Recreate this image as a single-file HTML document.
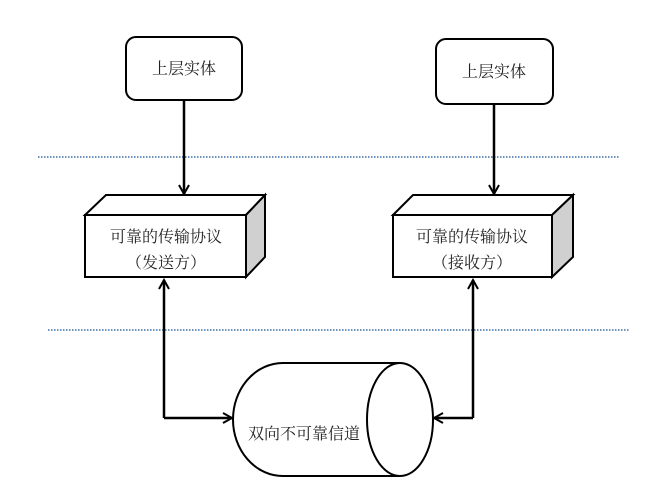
<!DOCTYPE html>
<html><head><meta charset="utf-8"><style>
body{margin:0;background:#fff}
text{font-family:"Liberation Serif","Noto Serif CJK SC","Noto Sans CJK SC",serif;font-size:16px;fill:#222}
</style></head><body>
<svg width="658" height="490" viewBox="0 0 658 490" xmlns="http://www.w3.org/2000/svg">
<defs>
<marker id="a" markerWidth="12" markerHeight="12" refX="10" refY="6" orient="auto" markerUnits="userSpaceOnUse">
<path d="M1,1 L10,6 L1,11" fill="none" stroke="#000" stroke-width="2"/>
</marker>
</defs>
<line x1="38" y1="157" x2="620" y2="157" stroke="#3a6ea5" stroke-width="1.5" stroke-dasharray="1.5,1.5"/>
<line x1="48" y1="330" x2="630" y2="330" stroke="#3a6ea5" stroke-width="1.5" stroke-dasharray="1.5,1.5"/>
<rect x="126" y="37" width="116" height="63" rx="10" fill="#fff" stroke="#000" stroke-width="2"/>
<text x="184" y="74" text-anchor="middle">上层实体</text>
<rect x="436" y="39" width="117" height="65" rx="10" fill="#fff" stroke="#000" stroke-width="2"/>
<text x="494" y="77" text-anchor="middle">上层实体</text>
<line x1="184" y1="100" x2="184" y2="194" stroke="#000" stroke-width="2.5" marker-end="url(#a)"/>
<line x1="494" y1="104" x2="494" y2="194" stroke="#000" stroke-width="2.5" marker-end="url(#a)"/>
<g stroke="#000" stroke-width="2">
<polygon points="85,215 106,195 265,195 246,215" fill="#fff"/>
<polygon points="246,215 265,195 265,257 246,277" fill="#d0d0d0"/>
<rect x="85" y="215" width="161" height="62" fill="#fff"/>
<polygon points="393,215 413,195 573,195 552,215" fill="#fff"/>
<polygon points="552,215 573,195 573,257 552,277" fill="#d0d0d0"/>
<rect x="393" y="215" width="159" height="62" fill="#fff"/>
</g>
<text x="166" y="242" text-anchor="middle">可靠的传输协议</text>
<text x="166" y="268" text-anchor="middle">（发送方）</text>
<text x="472" y="242" text-anchor="middle">可靠的传输协议</text>
<text x="472" y="268" text-anchor="middle">（接收方）</text>
<path d="M164,418 L164,280" fill="none" stroke="#000" stroke-width="2.5" marker-end="url(#a)"/>
<path d="M164,418 L232,418" fill="none" stroke="#000" stroke-width="2.5" marker-end="url(#a)"/>
<path d="M473,418 L473,280" fill="none" stroke="#000" stroke-width="2.5" marker-end="url(#a)"/>
<path d="M473,418 L434,418" fill="none" stroke="#000" stroke-width="2.5" marker-end="url(#a)"/>
<path d="M400,363 L283,363 A50,56.5 0 0 0 283,476 L400,476" fill="#fff" stroke="#000" stroke-width="2"/>
<ellipse cx="400" cy="419.5" rx="33" ry="56.5" fill="#fff" stroke="#000" stroke-width="2"/>
<text x="248" y="439">双向不可靠信道</text>
</svg>
</body></html>
